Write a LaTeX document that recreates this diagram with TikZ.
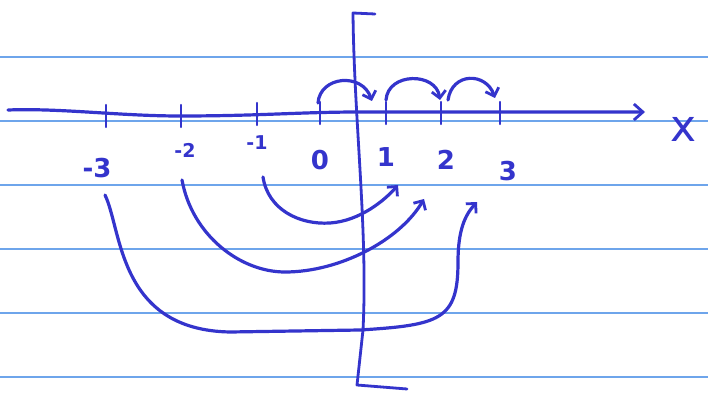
\documentclass[tikz,border=0pt]{standalone}
\usepackage{fontspec}
\setmainfont{DejaVu Sans}
\usetikzlibrary{arrows.meta}
\definecolor{ink}{RGB}{52,52,204}
\definecolor{rule}{RGB}{110,165,235}
\tikzset{
  pen/.style={draw=ink, line width=3.2pt, line cap=round, line join=round},
  penarrow/.style={pen, -{Straight Barb[length=7pt,width=14pt,line width=2.8pt]}},
  ruleline/.style={draw=rule, line width=1.2pt},
  lab/.style={text=ink, font=\bfseries\fontsize{26}{26}\selectfont, inner sep=0pt},
  smalllab/.style={text=ink, font=\bfseries\fontsize{19}{19}\selectfont, inner sep=0pt},
  tick/.style={pen, line width=2.2pt}
}
\begin{document}
\begin{tikzpicture}[x=1pt,y=-1pt]
\useasboundingbox (0,0) rectangle (708,395);
\fill[white] (0,0) rectangle (708,395);
% ruled lines
\foreach \yy [count=\i] in {57,121,185,249,313,377}
  \draw[ruleline] (0,\yy) coordinate (rl\i a) -- (708,\yy) coordinate (rl\i b);
% x axis
\coordinate (xs) at (8,110);
\coordinate (xe) at (645,112);
\draw[pen, -{Straight Barb[length=9pt,width=16pt,line width=2.8pt]}]
  (xs) .. controls (60,108) and (120,116) .. (180,116)
  .. controls (260,116) and (300,112) .. (360,112) -- (xe);
% ticks
\foreach \tx/\ty/\nm in {106/116/t3m,181/116/t2m,257/114/t1m,320/113/t0,386/113/t1,441/113/t2,500/113/t3}
  \draw[tick] (\tx,\ty-11) coordinate (\nm top) -- (\tx,\ty+11) coordinate (\nm bot);
% y axis
\coordinate (ytop) at (375,14);
\coordinate (ybot) at (407,389);
\draw[pen, line width=2.8pt] (ytop) -- (353,13) .. controls (354,120) and (368,230) .. (363,330) -- (357,385) -- (ybot);
% labels
\node[lab] (lm3) at (97,168) {-3};
\node[smalllab] (lm2) at (185,150) {-2};
\node[smalllab] (lm1) at (257,143) {-1};
\node[lab] (l0) at (320,160) {0};
\node[lab] (l1) at (386,157) {1};
\node[lab] (l2) at (446,160) {2};
\node[lab] (l3) at (508,171) {3};
\node[text=ink, font=\fontsize{44}{44}\selectfont, inner sep=0pt] (xl) at (684,129) {x};
% hops
\coordinate (h0s) at (318,103);
\coordinate (h0e) at (372,101);
\coordinate (h1s) at (386,100);
\coordinate (h1e) at (440,100);
\coordinate (h2s) at (448,100);
\coordinate (h2e) at (495,98);
\draw[penarrow] (h0s) .. controls (320,76) and (362,72) .. (h0e);
\draw[penarrow] (h1s) .. controls (388,72) and (436,72) .. (h1e);
\draw[penarrow] (h2s) .. controls (452,72) and (486,72) .. (h2e);
% big arcs
\coordinate (a1s) at (263,177);
\coordinate (a1e) at (398,185);
\coordinate (a2s) at (182,180);
\coordinate (a2e) at (424,199);
\coordinate (a3s) at (105,195);
\coordinate (a3e) at (477,202);
\draw[penarrow] (a1s) .. controls (268,210) and (300,225) .. (330,223)
  .. controls (360,221) and (385,200) .. (a1e);
\draw[penarrow] (a2s) .. controls (192,235) and (240,272) .. (285,272)
  .. controls (340,272) and (400,240) .. (a2e);
\draw[penarrow] (a3s) .. controls (122,230) and (118,330) .. (230,332)
  -- (360,330) .. controls (440,325) and (458,320) .. (458,262)
  .. controls (458,230) and (465,215) .. (a3e);
\end{tikzpicture}
\end{document}
